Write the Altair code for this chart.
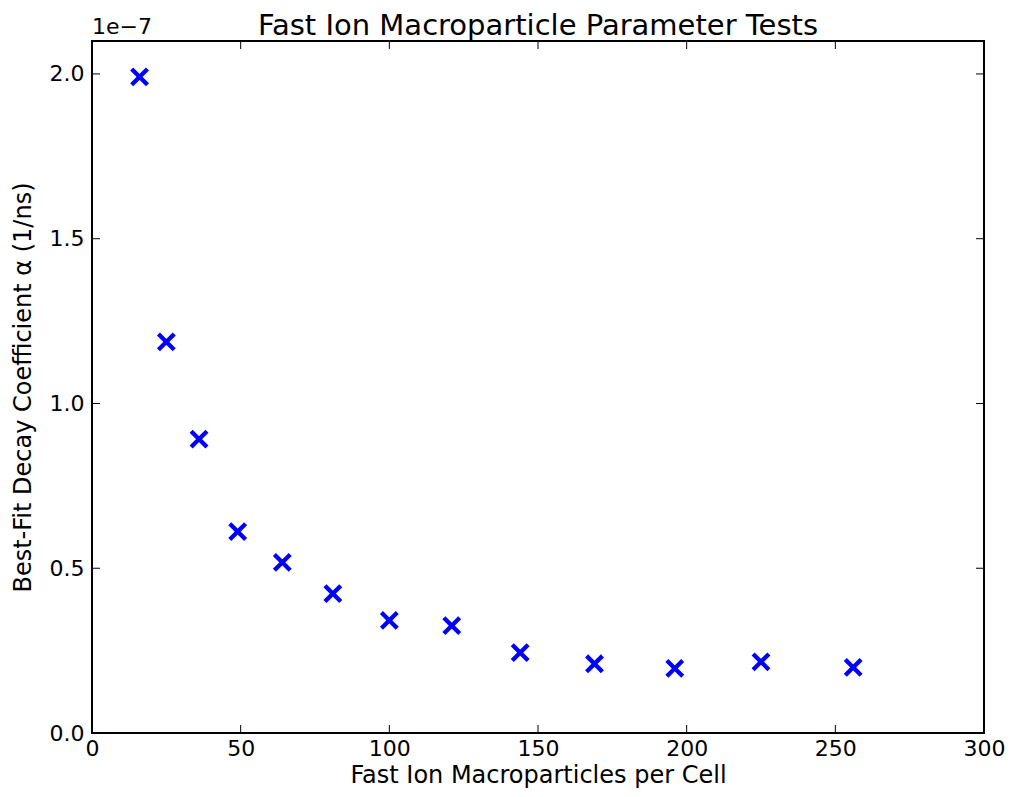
import altair as alt
import pandas as pd

# Data (alpha in 1/ns)
macroparticles = [16, 25, 36, 49, 64, 81, 100, 121, 144, 169, 196, 225, 256]
alpha = [1.991e-7, 1.187e-7, 0.892e-7, 0.611e-7, 0.518e-7, 0.423e-7, 0.342e-7,
         0.326e-7, 0.244e-7, 0.210e-7, 0.196e-7, 0.216e-7, 0.199e-7]
x_ticks = [0, 50, 100, 150, 200, 250, 300]
y_ticks = [0.0, 0.5e-7, 1.0e-7, 1.5e-7, 2.0e-7]

W, H = 892, 692
FONT = "DejaVu Sans"

df = pd.DataFrame({"x": macroparticles, "y": alpha})
xt = pd.DataFrame({"x": x_ticks})
yt = pd.DataFrame({"y": y_ticks})

xscale = alt.Scale(domain=[0, 300], nice=False, zero=False)
yscale = alt.Scale(domain=[0, 2.1e-7], nice=False, zero=False)

x_axis = alt.Axis(values=x_ticks, ticks=False, domain=False, grid=False,
                  labelFont=FONT, labelFontSize=22, labelColor="black",
                  labelPadding=5, title="Fast Ion Macroparticles per Cell",
                  titleFont=FONT, titleFontSize=24, titleFontWeight="normal",
                  titleColor="black", titlePadding=4, labelFlush=False)
y_axis = alt.Axis(values=y_ticks, ticks=False, domain=False, grid=False,
                  labelExpr="format(datum.value*1e7, '.1f')",
                  labelFont=FONT, labelFontSize=22, labelColor="black",
                  labelPadding=8, title="Best-Fit Decay Coefficient α (1/ns)",
                  titleFont=FONT, titleFontSize=24, titleFontWeight="normal",
                  titleColor="black", titlePadding=14, labelFlush=False)

xshape = "M-1,-1L1,1M1,-1L-1,1"

points = alt.Chart(df).mark_point(
    shape=xshape, size=250, filled=False, stroke="#0000ff", strokeWidth=4.3,
    opacity=1, strokeCap="butt"
).encode(
    x=alt.X("x:Q", scale=xscale, axis=x_axis),
    y=alt.Y("y:Q", scale=yscale, axis=y_axis),
)

tick_len = 8
xb = alt.Chart(xt).mark_rule(color="black", strokeWidth=1).encode(
    x=alt.X("x:Q", scale=xscale), y=alt.value(H), y2=alt.value(H - tick_len))
xtop = alt.Chart(xt).mark_rule(color="black", strokeWidth=1).encode(
    x=alt.X("x:Q", scale=xscale), y=alt.value(0), y2=alt.value(tick_len))
yl = alt.Chart(yt).mark_rule(color="black", strokeWidth=1).encode(
    y=alt.Y("y:Q", scale=yscale), x=alt.value(0), x2=alt.value(tick_len))
yr = alt.Chart(yt).mark_rule(color="black", strokeWidth=1).encode(
    y=alt.Y("y:Q", scale=yscale), x=alt.value(W), x2=alt.value(W - tick_len))

offset_text = alt.Chart(pd.DataFrame({"t": ["1e\u22127"]})).mark_text(
    font=FONT, fontSize=22, align="left", baseline="alphabetic", color="black"
).encode(x=alt.value(0), y=alt.value(-7), text="t:N")

chart = alt.layer(xb, xtop, yl, yr, points, offset_text).properties(
    width=W, height=H,
    title=alt.TitleParams("Fast Ion Macroparticle Parameter Tests", font=FONT,
                          fontSize=29, fontWeight="normal", color="black",
                          offset=0, dy=25, anchor="middle"),
    autosize=alt.AutoSizeParams(type="none"),
    padding={"left": 84, "top": 33, "right": 21, "bottom": 56},
).configure(background="white").configure_view(stroke="black", strokeWidth=2)

chart.save("out.html", embed_options={"renderer": "svg", "actions": False})
